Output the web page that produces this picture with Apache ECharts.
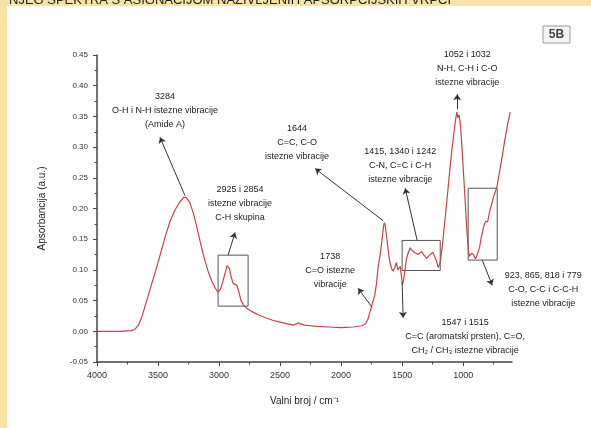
<!doctype html>
<html>
<head>
<meta charset="utf-8">
<title>FTIR spektar 5B</title>
<script src="https://cdn.jsdelivr.net/npm/echarts@6/dist/echarts.min.js"></script>
<style>
	html, body { margin: 0; padding: 0; background: #fff; }
	#chart { width: 591px; height: 428px; }
</style>
</head>
<body>
<div id="chart"></div>
<script>
	// spektar, ocitano sa slike
	var wavenumber = [4000, 3900, 3800, 3720, 3690, 3660, 3630, 3600, 3560, 3520, 3480, 3440, 3400, 3360, 3320, 3290, 3270, 3240, 3210, 3180, 3150, 3120, 3090, 3060, 3030, 3010, 2990, 2970, 2950, 2935, 2926, 2915, 2900, 2885, 2870, 2855, 2840, 2820, 2800, 2770, 2730, 2680, 2620, 2560, 2500, 2440, 2390, 2370, 2350, 2330, 2300, 2250, 2200, 2100, 2000, 1900, 1830, 1800, 1780, 1760, 1740, 1725, 1710, 1697, 1680, 1664, 1652, 1645, 1638, 1625, 1610, 1598, 1585, 1574, 1560, 1547, 1535, 1525, 1515, 1505, 1498, 1490, 1480, 1465, 1450, 1434, 1420, 1410, 1395, 1380, 1369, 1355, 1340, 1325, 1300, 1285, 1265, 1248, 1235, 1220, 1205, 1195, 1188, 1170, 1150, 1130, 1110, 1090, 1075, 1062, 1052, 1044, 1038, 1032, 1022, 1010, 995, 980, 968, 958, 950, 940, 930, 923, 912, 900, 890, 880, 865, 855, 840, 830, 818, 808, 800, 790, 779, 765, 750, 735, 721, 700, 680, 660, 640, 620, 615];
	var absorbance = [0.000, 0.000, 0.000, 0.001, 0.003, 0.010, 0.025, 0.045, 0.072, 0.098, 0.126, 0.155, 0.180, 0.198, 0.211, 0.218, 0.218, 0.210, 0.192, 0.168, 0.142, 0.118, 0.098, 0.082, 0.070, 0.064, 0.068, 0.080, 0.095, 0.107, 0.110, 0.102, 0.088, 0.078, 0.075, 0.075, 0.066, 0.050, 0.043, 0.037, 0.032, 0.027, 0.022, 0.018, 0.015, 0.012, 0.010, 0.012, 0.014, 0.012, 0.010, 0.009, 0.008, 0.007, 0.006, 0.007, 0.009, 0.012, 0.020, 0.034, 0.048, 0.058, 0.078, 0.104, 0.125, 0.150, 0.172, 0.177, 0.172, 0.150, 0.125, 0.110, 0.102, 0.098, 0.104, 0.112, 0.100, 0.102, 0.106, 0.088, 0.076, 0.082, 0.095, 0.118, 0.128, 0.136, 0.132, 0.134, 0.128, 0.127, 0.125, 0.128, 0.130, 0.125, 0.119, 0.121, 0.126, 0.129, 0.122, 0.115, 0.104, 0.108, 0.113, 0.140, 0.180, 0.220, 0.262, 0.300, 0.325, 0.345, 0.357, 0.348, 0.345, 0.352, 0.335, 0.300, 0.250, 0.200, 0.160, 0.135, 0.122, 0.120, 0.127, 0.130, 0.124, 0.118, 0.122, 0.128, 0.137, 0.150, 0.163, 0.172, 0.179, 0.176, 0.178, 0.188, 0.198, 0.208, 0.220, 0.228, 0.238, 0.262, 0.285, 0.310, 0.333, 0.352, 0.357];

	var xTickLabels = [4000, 3500, 3000, 2500, 2000, 1500, 1000];
	var xMinorTicks = [3750, 3250, 2750, 2250, 1750, 1250, 750];

	// okviri oko vrpci [wn1, a1, wn2, a2]
	var boxes = [
		[3008, 0.041, 2762, 0.124],
		[1500, 0.099, 1188, 0.148],
		[959, 0.116, 721, 0.233]
	];
	// strelice: od vrpce prema tekstu
	var arrows = [
		[[3279, 0.221], [3484, 0.316]],
		[[2926, 0.124], [2869, 0.161]],
		[[1655, 0.180], [2213, 0.265]],
		[[1746, 0.039], [1861, 0.070]],
		[[1377, 0.148], [1475, 0.233]],
		[[1049, 0.362], [1049, 0.386]],
		[[844, 0.116], [762, 0.075]],
		[[1500, 0.080], [1492, 0.022]]
	];
	var notes = [
		{ text: "3284\nO-H i N-H istezne vibracije\n(Amide A)", at: [3443, 0.360] },
		{ text: "2925 i 2854\nistezne vibracije\nC-H skupina", at: [2828, 0.208] },
		{ text: "1644\nC=C, C-O\nistezne vibracije", at: [2361, 0.308] },
		{ text: "1738\nC=O istezne\nvibracije", at: [2090, 0.099] },
		{ text: "1415, 1340 i 1242\nC-N, C=C i C-H\nistezne vibracije", at: [1516, 0.270] },
		{ text: "1052 i 1032\nN-H, C-H i C-O\nistezne vibracije", at: [967, 0.428] },
		{ text: "923, 865, 818 i 779\nC-O, C-C i C-C-H\nistezne vibracije", at: [344, 0.068] },
		{ text: "1547 i 1515\nC=C (aromatski prsten), C=O,\nCH\u2082 / CH\u2083 istezne vibracije", at: [984, -0.008] }
	];

	var fontFamily = "'Liberation Sans', Arial, sans-serif";
	var chart = echarts.init(document.getElementById("chart"));

	var spectrum = [];
	for (var i = 0; i < wavenumber.length; i++) {
		spectrum.push([wavenumber[i], absorbance[i]]);
	}

	var boxData = boxes.map(function(b) {
		return [{ coord: [b[0], b[1]] }, { coord: [b[2], b[3]] }];
	});
	var arrowData = arrows.map(function(a) {
		return [{ coord: a[0] }, { coord: a[1] }];
	});

	chart.setOption({
		animation: false,
		grid: {
			left: 97,
			right: 79,
			top: 55,
			bottom: 66
		},
		xAxis: [{
			type: "value",
			min: 600,
			max: 4000,
			inverse: true,
			name: "Valni broj / cm\u207B\u00B9",
			nameLocation: "middle",
			nameGap: 34,
			nameTextStyle: { color: "#222", fontSize: 10, fontFamily: fontFamily },
			axisLine: { onZero: false, lineStyle: { color: "#444", width: 1.5 } },
			axisTick: { customValues: xTickLabels, length: 4, lineStyle: { color: "#444" } },
			axisLabel: {
				customValues: xTickLabels,
				margin: 9,
				color: "#333",
				fontSize: 9,
				fontFamily: fontFamily,
				formatter: function(v) { return String(v); }
			},
			splitLine: { show: false }
		}, {
			type: "value",
			min: 600,
			max: 4000,
			inverse: true,
			position: "bottom",
			axisLine: { show: false, onZero: false },
			axisTick: { customValues: xMinorTicks, length: 2.5, lineStyle: { color: "#444" } },
			axisLabel: { show: false },
			splitLine: { show: false }
		}],
		yAxis: {
			type: "value",
			min: -0.05,
			max: 0.45,
			interval: 0.05,
			name: "Apsorbancija (a.u.)",
			nameLocation: "middle",
			nameGap: 50,
			nameTextStyle: { color: "#222", fontSize: 10, fontFamily: fontFamily },
			axisLine: { show: true, onZero: false, lineStyle: { color: "#444", width: 1.5 } },
			axisTick: { length: 4, lineStyle: { color: "#444" } },
			minorTick: { show: true, splitNumber: 2, length: 2.5, lineStyle: { color: "#444" } },
			axisLabel: {
				margin: 9,
				color: "#333",
				fontSize: 8,
				fontFamily: fontFamily,
				formatter: function(v) { return v.toFixed(2); }
			},
			splitLine: { show: false }
		},
		series: [{
			type: "line",
			data: spectrum,
			showSymbol: false,
			silent: true,
			lineStyle: { color: "#c8424a", width: 1.2 },
			markArea: {
				silent: true,
				itemStyle: { color: "rgba(0,0,0,0)", borderColor: "#555", borderWidth: 1 },
				data: boxData
			},
			markLine: {
				silent: true,
				symbol: ["none", "arrow"],
				symbolSize: 6,
				label: { show: false },
				lineStyle: { color: "#333", width: 1, type: "solid" },
				data: arrowData
			}
		}]
	});

	var graphics = [
		{ type: "rect", shape: { x: 0, y: 0, width: 7, height: 428 }, style: { fill: "#f7e3a3" } },
		{ type: "rect", shape: { x: 0, y: 0, width: 591, height: 6 }, style: { fill: "#f7e3a3" } },
		{
			type: "text", x: 9, y: 7,
			style: { text: "NJEG SPEKTRA S ASIGNACIJOM NAZIVLJENIH APSORPCIJSKIH VRPCI", fill: "#222", fontSize: 13, fontFamily: fontFamily, verticalAlign: "bottom" }
		},
		{ type: "rect", shape: { x: 543, y: 26, width: 27, height: 17 }, style: { fill: "#f5f5f5", stroke: "#9a9a9a", lineWidth: 1 } },
		{
			type: "text", x: 556.5, y: 34.5,
			style: { text: "5B", fill: "#444", fontSize: 12, fontWeight: "bold", fontFamily: fontFamily, align: "center", verticalAlign: "middle" }
		}
	];
	notes.forEach(function(n) {
		var p = chart.convertToPixel({ xAxisIndex: 0, yAxisIndex: 0 }, n.at);
		graphics.push({
			type: "text",
			x: p[0],
			y: p[1],
			style: {
				text: n.text,
				fill: "#1a1a1a",
				fontSize: 9,
				lineHeight: 14,
				fontFamily: fontFamily,
				align: "center",
				verticalAlign: "middle"
			}
		});
	});
	chart.setOption({ graphic: graphics });
</script>
</body>
</html>
